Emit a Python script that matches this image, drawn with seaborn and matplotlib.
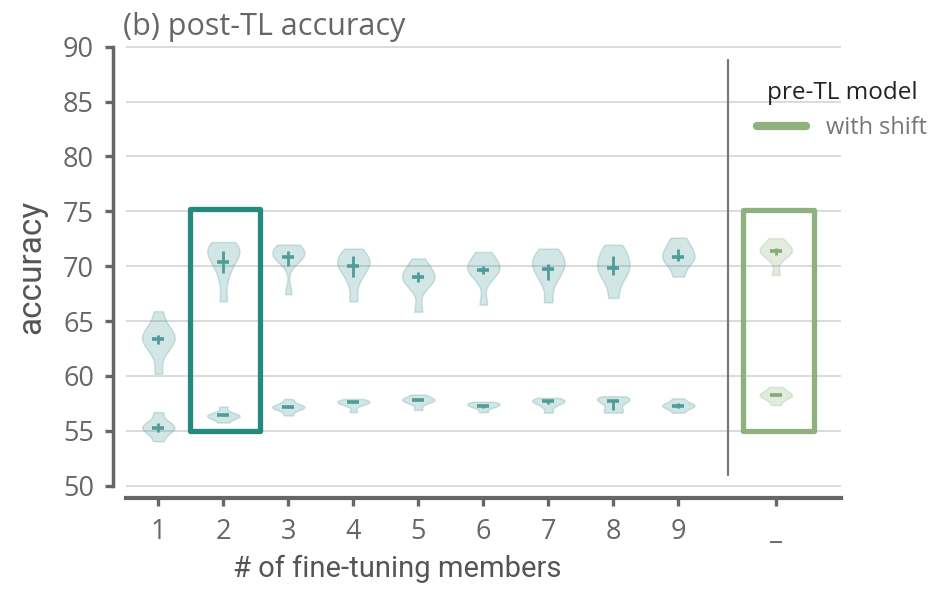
import matplotlib
matplotlib.use("Agg")
import matplotlib.pyplot as plt
from matplotlib.patches import Rectangle
from matplotlib.lines import Line2D
import seaborn as sns
import pandas as pd
import numpy as np

# ---------------- data ----------------
members = [1, 2, 3, 4, 5, 6, 7, 8, 9]
tick_labels = ["1", "2", "3", "4", "5", "6", "7", "8", "9", "_"]

# upper cluster of post-TL accuracies per number of fine-tuning members
upper_1 = [60.2, 62.2, 62.9, 63.3, 63.6, 63.9, 64.4, 65.9]
upper_2 = [66.8, 69.0, 70.2, 70.8, 71.2, 71.5, 71.8, 72.2]
upper_3 = [67.45, 70.6, 70.9, 71.1, 71.3, 71.5, 71.95]
upper_4 = [66.8, 68.6, 69.5, 70.0, 70.3, 70.6, 71.0, 71.6]
upper_5 = [65.85, 68.2, 68.7, 69.0, 69.3, 69.7, 70.7]
upper_6 = [66.5, 69.0, 69.5, 69.8, 70.1, 70.5, 71.3]
upper_7 = [66.7, 68.5, 69.3, 69.8, 70.2, 70.6, 71.0, 71.6]
upper_8 = [67.1, 68.6, 69.3, 69.8, 70.2, 70.7, 71.3, 71.95]
upper_9 = [69.05, 70.0, 70.5, 70.8, 71.1, 71.5, 72.0, 72.6]

# lower cluster
lower_1 = [54.05, 54.8, 55.1, 55.3, 55.5, 55.8, 56.7]
lower_2 = [55.75, 56.1, 56.3, 56.35, 56.45, 56.6, 57.2]
lower_3 = [56.4, 56.9, 57.1, 57.15, 57.25, 57.4, 57.9]
lower_4 = [56.7, 57.3, 57.5, 57.6, 57.65, 57.75, 57.9]
lower_5 = [56.9, 57.5, 57.7, 57.8, 57.9, 58.0, 58.3]
lower_6 = [56.7, 57.1, 57.25, 57.35, 57.45, 57.55, 57.65]
lower_7 = [56.65, 57.2, 57.5, 57.65, 57.75, 57.85, 58.0]
lower_8 = [56.65, 56.8, 57.3, 57.7, 57.85, 57.95, 58.15]
lower_9 = [56.65, 57.0, 57.2, 57.3, 57.4, 57.6, 57.95]

# pre-TL model "with shift"
pre_upper = [69.2, 70.8, 71.2, 71.4, 71.6, 71.9, 72.55]
pre_lower = [57.35, 57.9, 58.1, 58.25, 58.4, 58.6, 59.0]

# summary marks (centre, low, high) for each violin
upper_center = [63.36, 70.4, 70.8, 70.0, 69.05, 69.65, 69.75, 69.8, 70.8]
upper_low = [62.95, 69.4, 70.0, 69.05, 68.6, 69.3, 68.75, 69.2, 70.45]
upper_high = [63.75, 71.4, 71.36, 70.95, 69.5, 70.0, 70.2, 70.95, 71.6]
lower_center = [55.3, 56.4, 57.15, 57.6, 57.8, 57.3, 57.7, 57.7, 57.3]
lower_low = [54.9, 56.35, 57.1, 57.55, 57.75, 57.1, 57.4, 56.9, 57.1]
lower_high = [55.7, 56.45, 57.2, 57.65, 57.85, 57.3, 57.7, 57.7, 57.5]
pre_center = [71.35, 58.25]
pre_low = [71.05, 58.2]
pre_high = [71.65, 58.3]

legend_title = "pre-TL model"
legend_label = "with shift"
title = "(b) post-TL accuracy"
xlabel = "# of fine-tuning members"
ylabel = "accuracy"

# ---------------- styling ----------------
TEAL = "#4f9c98"
TEAL_BOX = "#25897f"
GREEN = "#8fb07f"
GREEN_MARK = "#86ab77"
GRAY = "#666666"

sns.set_theme(style="white")
plt.rcParams["font.family"] = ["Open Sans", "DejaVu Sans"]

uppers = [upper_1, upper_2, upper_3, upper_4, upper_5, upper_6, upper_7, upper_8, upper_9]
lowers = [lower_1, lower_2, lower_3, lower_4, lower_5, lower_6, lower_7, lower_8, lower_9]
PRE_X = 10.5

rows = []
for m, u, l in zip(members, uppers, lowers):
    rows += [dict(x=m, acc=v, cluster="upper", model="post") for v in u]
    rows += [dict(x=m, acc=v, cluster="lower", model="post") for v in l]
rows += [dict(x=PRE_X, acc=v, cluster="upper", model="pre") for v in pre_upper]
rows += [dict(x=PRE_X, acc=v, cluster="lower", model="pre") for v in pre_lower]
df = pd.DataFrame(rows)

fig = plt.figure(figsize=(9.3, 5.89), dpi=100)
ax = fig.add_axes([0.1353, 0.1717, 0.7688, 0.7509])

ax.set_xlim(0.5, 11.5)
ax.set_ylim(49.8, 90.1)
ax.set_yticks(range(50, 91, 5))
ax.yaxis.grid(True, color="#d8d8d8", lw=1.3, zorder=0)
ax.xaxis.grid(False)
ax.set_axisbelow(True)

for (cl, mdl), sub in df.groupby(["cluster", "model"]):
    col = TEAL if mdl == "post" else GREEN
    sns.violinplot(data=sub, x="x", y="acc", native_scale=True, ax=ax,
                   color=col, linecolor=col, linewidth=1.1, inner=None,
                   cut=0, density_norm="width", width=0.5, gridsize=14,
                   bw_adjust=0.75, saturation=1, alpha=0.25, zorder=2)

# summary marks
def marks(xs, c, lo, hi, col):
    c = np.asarray(c); lo = np.asarray(lo); hi = np.asarray(hi)
    ax.errorbar(xs, c, yerr=[c - lo, hi - c], fmt="none", ecolor=col,
                elinewidth=2.0, capsize=0, zorder=4)
    ax.scatter(xs, c, marker="_", s=80, linewidths=2.6, color=col, zorder=5)

marks(members, upper_center, upper_low, upper_high, TEAL)
marks(members, lower_center, lower_low, lower_high, TEAL)
marks([PRE_X, PRE_X], pre_center, pre_low, pre_high, GREEN_MARK)

# highlight boxes
ax.add_patch(Rectangle((1.49, 55.0), 1.08, 20.2, fill=False, ec=TEAL_BOX,
                       lw=3.8, joinstyle="round", zorder=6))
ax.add_patch(Rectangle((10.0, 55.0), 1.09, 20.1, fill=False, ec=GREEN,
                       lw=3.8, joinstyle="round", zorder=6))

# separator
ax.axvline(9.77, ymin=0.03, ymax=0.968, color="#777777", lw=1.6, zorder=3)

# axes cosmetics
ax.set_xticks(members + [PRE_X])
ax.set_xticklabels(tick_labels)
for s in ["top", "right"]:
    ax.spines[s].set_visible(False)
ax.spines["left"].set_position(("outward", 9))
ax.spines["bottom"].set_position(("outward", 7.5))
ax.spines["left"].set_bounds(50, 90)
ax.spines["left"].set_linewidth(2.5)
ax.spines["bottom"].set_linewidth(3.0)
ax.spines["left"].set_color(GRAY)
ax.spines["bottom"].set_color(GRAY)
ax.tick_params(axis="both", length=6, width=2.4, color=GRAY,
               labelcolor=GRAY, labelsize=19.5, pad=8, left=True, bottom=True)

LABEL_FONT = ["Roboto", "DejaVu Sans"]
ax.set_xlabel(xlabel, fontsize=21, color="#555555", family=LABEL_FONT)
ax.xaxis.set_label_coords(0.379, -0.152)
ax.set_ylabel(ylabel, fontsize=24, color="#555555", family=LABEL_FONT)
ax.yaxis.set_label_coords(-0.11, 0.5)

fig.text(123 / 930, 1 - 35 / 589, title, fontsize=22, color="#666666",
         ha="left", va="baseline")

handle = Line2D([0], [0], color=GREEN, lw=6)
leg = fig.legend([handle], [legend_label], title=legend_title,
                 loc="upper left", bbox_to_anchor=(740 / 930, 1 - 64 / 589),
                 frameon=False, fontsize=17, title_fontsize=17.5,
                 handlelength=2.1, handletextpad=0.85, borderpad=0.2)
for t in leg.get_texts():
    t.set_color("#777777")
leg.get_title().set_color("#222222")

fig.savefig("out.png", dpi=100)
